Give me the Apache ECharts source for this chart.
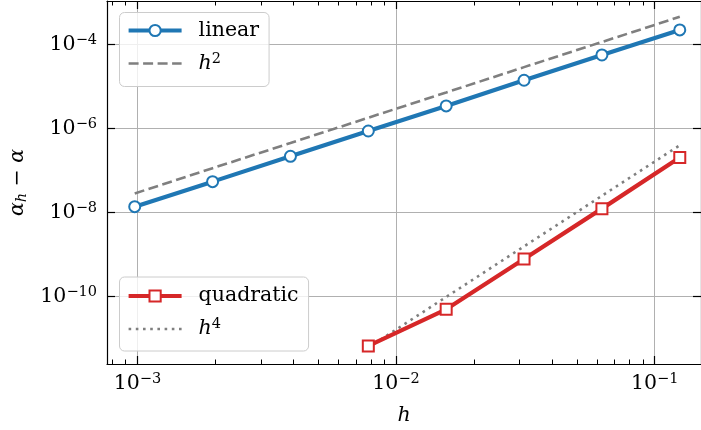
<!DOCTYPE html>
<html>
<head>
<meta charset="utf-8">
<script src="https://cdn.jsdelivr.net/npm/echarts@6/dist/echarts.min.js"></script>
<style>
html,body{margin:0;padding:0;background:#fff;}
#c{width:701px;height:430px;}
</style>
</head>
<body>
<div id="c"></div>
<script>
// ---- data ----
const hLinear = [0.0009765625, 0.001953125, 0.00390625, 0.0078125, 0.015625, 0.03125, 0.0625, 0.125];
const linearErr = [1.36e-8, 5.36e-8, 2.15e-7, 8.6e-7, 3.4e-6, 1.39e-5, 5.56e-5, 2.19e-4];
const h2Ref = [2.8e-8, 1.12e-7, 4.45e-7, 1.78e-6, 7.1e-6, 2.85e-5, 1.13e-4, 4.5e-4];
const hQuad = [0.0078125, 0.015625, 0.03125, 0.0625, 0.125];
const quadErr = [6.56e-12, 4.9e-11, 7.73e-10, 1.22e-8, 2.0e-7];
const h4Ref = [6.0e-12, 9.6e-11, 1.54e-9, 2.46e-8, 3.94e-7];

const xTicks = [1e-3, 1e-2, 1e-1];
const xTickExp = ['−3', '−2', '−1'];
const xMinorTicks = [8e-4, 9e-4, 2e-3, 3e-3, 4e-3, 5e-3, 6e-3, 7e-3, 8e-3, 9e-3,
                     2e-2, 3e-2, 4e-2, 5e-2, 6e-2, 7e-2, 8e-2, 9e-2];
const yTicks = [1e-10, 1e-8, 1e-6, 1e-4];
const yTickExp = ['−10', '−8', '−6', '−4'];

const X_MIN = 7.63e-4, X_MAX = 0.151;
const Y_MIN = 2.44e-12, Y_MAX = 1.07e-3;

const FONT = 'DejaVu Serif';
const BLUE = '#1f77b4', RED = '#d62728', GRAY = '#7f7f7f';

function pairs(xs, ys) { return xs.map((x, i) => [x, ys[i]]); }
function expLabel(ticks, exps) {
  return function (v) {
    const lv = Math.log10(v);
    const i = ticks.findIndex(t => Math.abs(Math.log10(t) - lv) < 1e-6);
    if (i < 0) return '';
    return '{b|10}{s|' + exps[i] + '}';
  };
}
const richExp = {
  b: { fontFamily: FONT, fontSize: 20.5, color: '#000', lineHeight: 24 },
  s: { fontFamily: FONT, fontSize: 14.5, color: '#000', verticalAlign: 'top', lineHeight: 10 }
};
const spine = { show: true, lineStyle: { color: '#000', width: 1.2 } };

const legendCommon = {
  orient: 'vertical',
  itemWidth: 53,
  itemHeight: 14,
  itemGap: 9,
  borderColor: '#cccccc',
  borderWidth: 1,
  borderRadius: 5,
  backgroundColor: 'rgba(255,255,255,0.8)',
  selectedMode: false,
  lineStyle: { width: 'inherit', type: 'inherit' },
  textStyle: {
    fontFamily: FONT, fontSize: 20.5, color: '#000', lineHeight: 24, padding: [0, 0, 0, 12],
    rich: {
      i: { fontFamily: FONT, fontSize: 20.5, fontStyle: 'italic', color: '#000', lineHeight: 24 },
      s: { fontFamily: FONT, fontSize: 14.5, color: '#000', verticalAlign: 'top', lineHeight: 10 }
    }
  },
  formatter: function (name) {
    if (name === 'h2') return '{i|h}{s|2}';
    if (name === 'h4') return '{i|h}{s|4}';
    return name;
  }
};

const option = {
  animation: false,
  backgroundColor: '#fff',
  grid: { left: 107, right: 0, top: 1, bottom: 66, containLabel: false, outerBoundsMode: 'none' },
  legend: [
    Object.assign({}, legendCommon, {
      left: 119.5, top: 12.5, padding: [6, 10, 11, 7],
      data: ['linear', { name: 'h2', itemStyle: { opacity: 0 } }]
    }),
    Object.assign({}, legendCommon, {
      left: 119.5, top: 277, padding: [7, 10, 10, 7],
      data: ['quadratic', { name: 'h4', itemStyle: { opacity: 0 } }]
    })
  ],
  xAxis: [
    {
      type: 'log', min: X_MIN, max: X_MAX, position: 'bottom',
      axisLine: spine,
      axisTick: { show: true, inside: true, length: 8, customValues: xTicks, lineStyle: { color: '#000', width: 1.2 } },
      axisLabel: { show: true, customValues: xTicks, margin: 8, formatter: expLabel(xTicks, xTickExp), rich: richExp },
      splitLine: { show: true, lineStyle: { color: '#b0b0b0', width: 1 } },
      name: 'h', nameLocation: 'middle', nameGap: 42,
      nameTextStyle: { fontFamily: FONT, fontSize: 20.5, fontStyle: 'italic', color: '#000' }
    },
    {
      type: 'log', min: X_MIN, max: X_MAX, position: 'bottom',
      axisLine: { show: false },
      axisTick: { show: true, inside: true, length: 4.5, customValues: xMinorTicks, lineStyle: { color: '#000', width: 1 } },
      axisLabel: { show: false }, splitLine: { show: false }
    },
    {
      type: 'log', min: X_MIN, max: X_MAX, position: 'top',
      axisLine: spine,
      axisTick: { show: true, inside: true, length: 8, customValues: xTicks, lineStyle: { color: '#000', width: 1.2 } },
      axisLabel: { show: false }, splitLine: { show: false }
    },
    {
      type: 'log', min: X_MIN, max: X_MAX, position: 'top',
      axisLine: { show: false },
      axisTick: { show: true, inside: true, length: 4.5, customValues: xMinorTicks, lineStyle: { color: '#000', width: 1 } },
      axisLabel: { show: false }, splitLine: { show: false }
    }
  ],
  yAxis: [
    {
      type: 'log', min: Y_MIN, max: Y_MAX, position: 'left',
      axisLine: spine,
      axisTick: { show: true, inside: true, length: 8, customValues: yTicks, lineStyle: { color: '#000', width: 1.2 } },
      axisLabel: { show: true, customValues: yTicks, margin: 10, formatter: expLabel(yTicks, yTickExp), rich: richExp },
      splitLine: { show: true, lineStyle: { color: '#b0b0b0', width: 1 } },
      name: '{i|α}{sub|h}{n| − }{i|α}', nameLocation: 'middle', nameGap: 77, nameRotate: 90,
      nameTextStyle: {
        rich: {
          i: { fontFamily: FONT, fontSize: 20.5, fontStyle: 'italic', color: '#000', lineHeight: 24 },
          sub: { fontFamily: FONT, fontSize: 14.5, fontStyle: 'italic', color: '#000', verticalAlign: 'bottom', lineHeight: 14 },
          n: { fontFamily: FONT, fontSize: 20.5, color: '#000', lineHeight: 24 }
        }
      }
    },
    {
      type: 'log', min: Y_MIN, max: Y_MAX, position: 'right',
      axisLine: spine,
      axisTick: { show: true, inside: true, length: 8, customValues: yTicks, lineStyle: { color: '#000', width: 1.2 } },
      axisLabel: { show: false }, splitLine: { show: false }
    }
  ],
  series: [
    {
      name: 'linear', type: 'line', xAxisIndex: 0, yAxisIndex: 0, z: 4,
      data: pairs(hLinear, linearErr),
      symbol: 'emptyCircle', symbolSize: 11,
      lineStyle: { color: BLUE, width: 4.2 },
      itemStyle: { color: BLUE, borderWidth: 2 }
    },
    {
      name: 'h2', type: 'line', xAxisIndex: 0, yAxisIndex: 0, z: 3,
      data: pairs(hLinear, h2Ref),
      symbol: 'none',
      lineStyle: { color: GRAY, width: 2.6, type: [10, 4.5] },
      itemStyle: { color: GRAY }
    },
    {
      name: 'quadratic', type: 'line', xAxisIndex: 0, yAxisIndex: 0, z: 4,
      data: pairs(hQuad, quadErr),
      symbol: 'emptyRect', symbolSize: 11,
      lineStyle: { color: RED, width: 4.2 },
      itemStyle: { color: RED, borderWidth: 2 }
    },
    {
      name: 'h4', type: 'line', xAxisIndex: 0, yAxisIndex: 0, z: 3,
      data: pairs(hQuad, h4Ref),
      symbol: 'none',
      lineStyle: { color: GRAY, width: 2.6, type: [2.6, 4.6] },
      itemStyle: { color: GRAY }
    }
  ]
};

const chart = echarts.init(document.getElementById('c'), null, { renderer: 'canvas' });
chart.setOption(option);
</script>
</body>
</html>
